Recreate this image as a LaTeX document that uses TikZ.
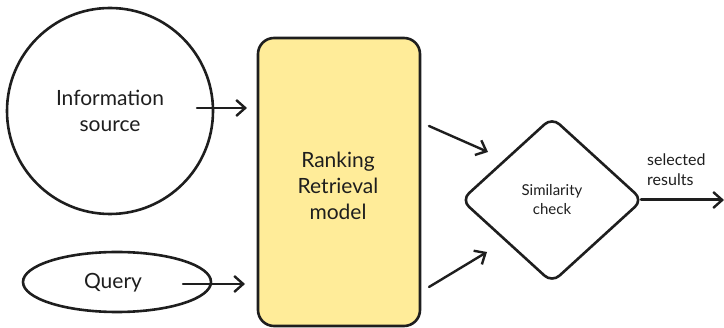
\documentclass[tikz,border=0pt]{standalone}
\usepackage{fontspec}
\setmainfont{Lato}
\usetikzlibrary{arrows.meta,shapes.geometric}
\definecolor{boxfill}{HTML}{FFEC99}
\definecolor{ink}{HTML}{1E1E1E}
\begin{document}
\begin{tikzpicture}[x=1pt,y=-1pt,
  shape line/.style={draw=ink,line width=2.6pt},
  flow/.style={draw=ink,line width=2.4pt,line cap=round,
    -{Straight Barb[length=9pt,width=16pt,line width=2.4pt]}},
  big label/.style={font=\fontsize{21}{26}\selectfont,text=ink,align=center},
  small label/.style={font=\fontsize{15}{19}\selectfont,text=ink,align=center}]
\useasboundingbox (0,0) rectangle (724,328);

% sources
\node[shape line,circle,minimum size=206pt,inner sep=0pt] (src) at (110,111) {};
\node[big label] (srctext) at (110,111) {Information\\source};
\node[shape line,ellipse,minimum width=188pt,minimum height=60pt,inner sep=0pt] (query) at (117,282) {};
\node[big label] (querytext) at (113,283) {Query};

% retrieval model
\node[shape line,fill=boxfill,rounded corners=16pt,minimum width=162pt,minimum height=288pt,inner sep=0pt] (model) at (339,182) {};
\node[big label] (modeltext) at (338,186) {Ranking\\Retrieval\\model};

% similarity decision
\node[shape line,diamond,rounded corners=10pt,minimum width=182pt,minimum height=166pt,inner sep=0pt] (sim) at (552,200) {};
\node[small label] (simtext) at (552,200) {Similarity\\check};

% connector end points
\coordinate (a1s) at (197,108);
\coordinate (a1e) at (247,108);
\coordinate (a2s) at (183,284);
\coordinate (a2e) at (245,284);
\coordinate (a3s) at (429,126);
\coordinate (a3e) at (488,152);
\coordinate (a4s) at (429,287);
\coordinate (a4e) at (487,252);
\coordinate (outs) at (641,200);
\coordinate (oute) at (724,200);

\draw[flow] (a1s) -- (a1e);
\draw[flow] (a2s) -- (a2e);
\draw[flow] (a3s) -- (a3e);
\draw[flow] (a4s) -- (a4e);
\draw[flow,line width=3pt] (outs) -- (oute);
\node[font=\fontsize{16}{20}\selectfont,text=ink,align=left,anchor=south west,inner sep=0pt] (outlabel) at (647,186) {selected\\results};
\end{tikzpicture}
\end{document}
